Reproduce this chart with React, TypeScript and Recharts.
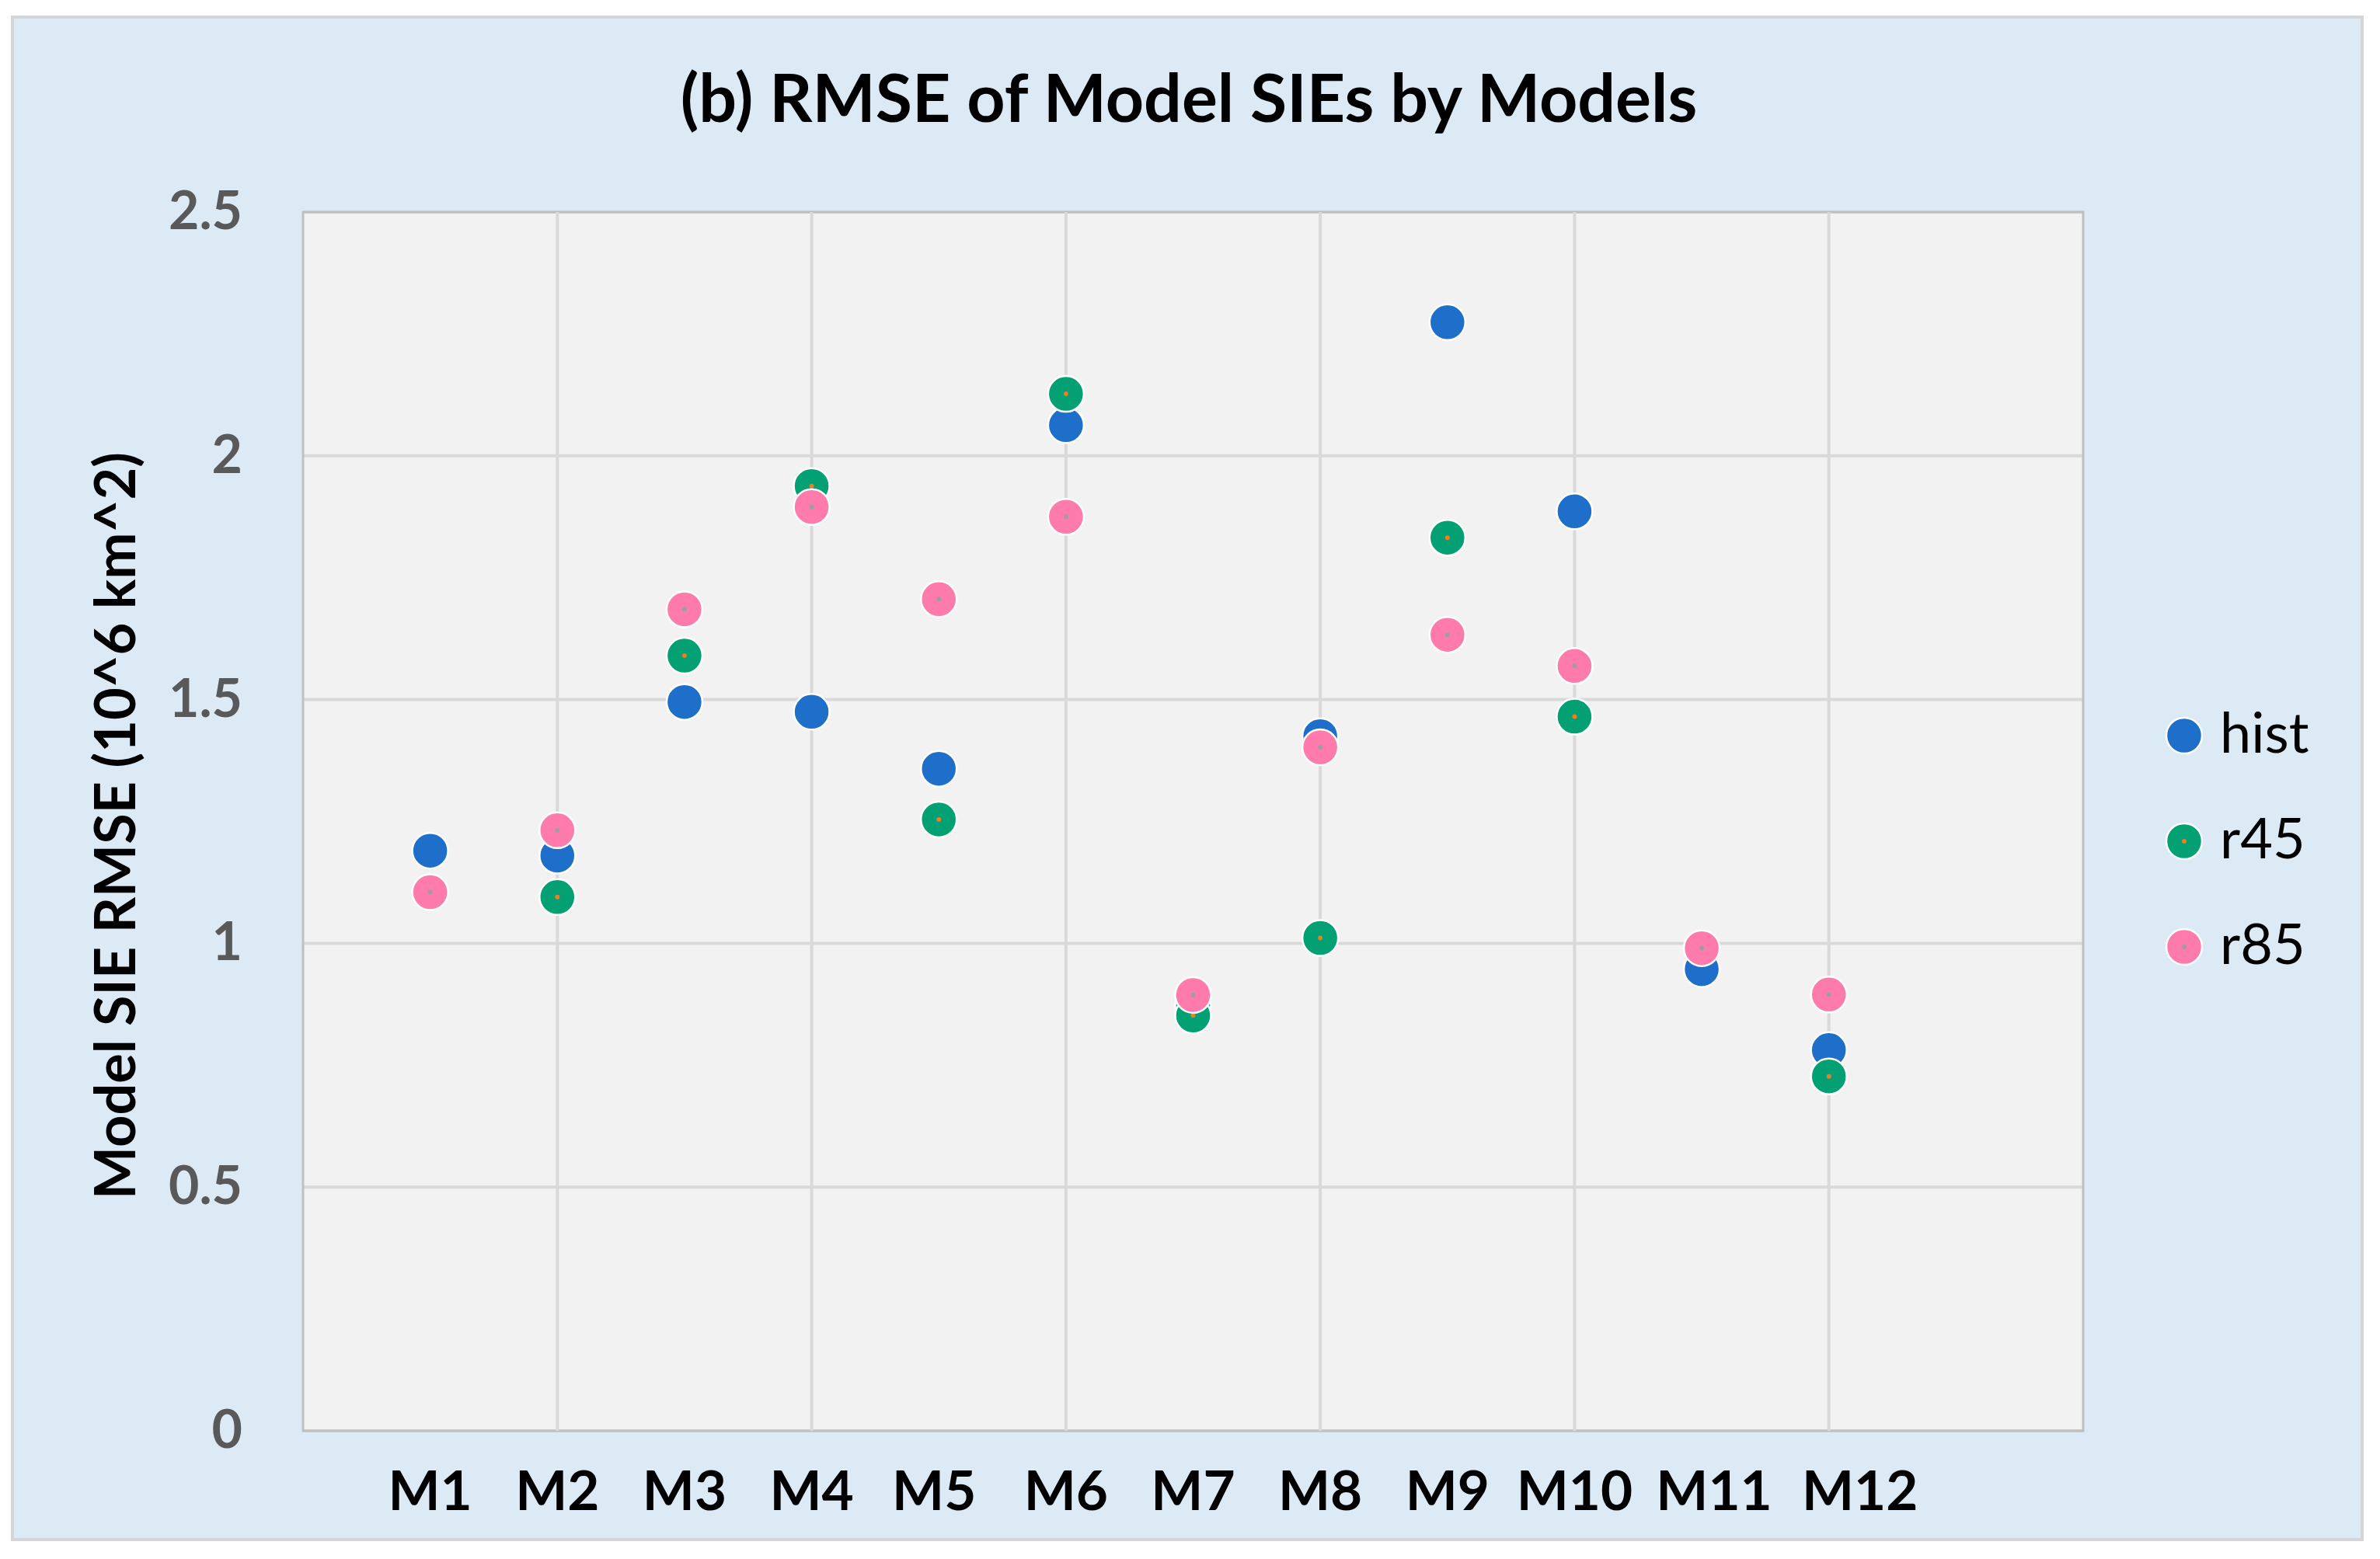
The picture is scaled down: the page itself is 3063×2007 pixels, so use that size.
import React from 'react';
import { ScatterChart, Scatter, XAxis, YAxis, CartesianGrid, Legend, ReferenceArea, ReferenceLine } from 'recharts';

const categories = ['M1', 'M2', 'M3', 'M4', 'M5', 'M6', 'M7', 'M8', 'M9', 'M10', 'M11', 'M12'];
const histValues: (number | null)[] = [1.19, 1.18, 1.495, 1.475, 1.358, 2.063, 0.872, 1.425, 2.274, 1.886, 0.947, 0.781];
const r45Values: (number | null)[] = [null, 1.095, 1.59, 1.938, 1.254, 2.127, 0.852, 1.011, 1.832, 1.465, null, 0.727];
const r85Values: (number | null)[] = [1.105, 1.232, 1.685, 1.895, 1.706, 1.875, 0.894, 1.402, 1.633, 1.569, 0.99, 0.895];
const seriesNames = ['hist', 'r45', 'r85'];
const yTicks = [0, 0.5, 1, 1.5, 2, 2.5];
const yTickLabels = ['0', '0.5', '1', '1.5', '2', '2.5'];
const xTicks = [1, 2, 3, 4, 5, 6, 7, 8, 9, 10, 11, 12];
const xGridValues = [2, 4, 6, 8, 10, 12];
const xDomain = [0, 14];
const yDomain = [0, 2.5];

// small horizontal nudges (px) of the category text labels, as placed in the original
const xLabelNudge = [0, 0, 0, 0, -6, 0, 0, 0, 0, 0, 16, 40];

const COLORS = {
  hist: '#1D6FC9',
  r45: '#02A072',
  r85: '#FF7BAC',
};
const CENTER_DOTS: Record<string, string | null> = {
  hist: null,
  r45: '#F07D1F',
  r85: '#9E9E9E',
};

const FONT = 'Lato, "Open Sans", sans-serif';

const toPoints = (vals: (number | null)[]) =>
  categories
    .map((c, i) => ({ name: c, x: i + 1, y: vals[i] }))
    .filter((d) => d.y !== null && d.y !== undefined);

const histData = toPoints(histValues);
const r45Data = toPoints(r45Values);
const r85Data = toPoints(r85Values);

const makeShape = (fill: string, dot: string | null) => (props: any) => {
  const { cx, cy } = props;
  if (cx == null || cy == null || isNaN(cx) || isNaN(cy)) return <g />;
  return (
    <g>
      <circle cx={cx} cy={cy} r={23} fill={fill} stroke="#FFFFFF" strokeWidth={2.5} />
      {dot ? <circle cx={cx} cy={cy} r={3} fill={dot} /> : null}
    </g>
  );
};

const XTick = (props: any) => {
  const { x, y, payload } = props;
  const i = Math.round(payload.value) - 1;
  const label = categories[i] ?? '';
  const dx = xLabelNudge[i] ?? 0;
  return (
    <text x={x + dx} y={y + 102} textAnchor="middle" fontFamily={FONT} fontWeight={700} fontSize={71} fill="#000000">
      {label}
    </text>
  );
};

const YTick = (props: any) => {
  const { x, y, payload } = props;
  const idx = yTicks.indexOf(payload.value);
  const label = idx >= 0 ? yTickLabels[idx] : String(payload.value);
  return (
    <text x={x} y={y + 22} textAnchor="end" fontFamily={FONT} fontWeight={700} fontSize={68} fill="#595959">
      {label}
    </text>
  );
};

const renderLegend = (props: any) => {
  const payload = (props && props.payload) || [];
  const items = seriesNames.map((n) => {
    const p = payload.find((e: any) => e.value === n);
    return { name: n, color: (p && p.color) || (COLORS as any)[n] };
  });
  return (
    <div style={{ display: 'flex', flexDirection: 'column' }}>
      {items.map((it) => (
        <div key={it.name} style={{ height: 136, display: 'flex', alignItems: 'center' }}>
          <svg width={52} height={52} style={{ flex: 'none' }}>
            <circle cx={26} cy={26} r={23} fill={it.color} stroke="#FFFFFF" strokeWidth={2.5} />
            {CENTER_DOTS[it.name] ? <circle cx={26} cy={26} r={3} fill={CENTER_DOTS[it.name] as string} /> : null}
          </svg>
          <span
            style={{
              marginLeft: 20,
              fontFamily: FONT,
              fontSize: 72,
              lineHeight: '72px',
              color: '#000000',
              position: 'relative',
              top: -6,
            }}
          >
            {it.name}
          </span>
        </div>
      ))}
    </div>
  );
};

export default function App() {
  return (
    <div style={{ position: 'absolute', left: 0, top: 0, width: 3063, height: 2007, background: '#FFFFFF', overflow: 'hidden' }}>
      <div
        style={{
          position: 'absolute',
          left: 14,
          top: 20,
          width: 3028,
          height: 1964,
          background: '#DCEAF6',
          border: '4px solid #D3D6D9',
          boxSizing: 'border-box',
        }}
      />
      <div style={{ position: 'absolute', left: 0, top: 0 }}>
        <ScatterChart
          width={3063}
          height={2007}
          margin={{ top: 273, right: 382, bottom: 45, left: 190 }}
        >
          <CartesianGrid fill="#F2F2F2" stroke="#D9D9D9" strokeWidth={4} vertical={false} />
          {xGridValues.map((v) => (
            <ReferenceLine key={v} x={v} stroke="#D9D9D9" strokeWidth={4} />
          ))}
          <ReferenceArea
            x1={xDomain[0]}
            x2={xDomain[1]}
            y1={yDomain[0]}
            y2={yDomain[1]}
            fill="none"
            fillOpacity={0}
            stroke="#BFBFBF"
            strokeWidth={3}
          />
          <XAxis
            type="number"
            dataKey="x"
            domain={xDomain}
            ticks={xTicks}
            interval={0}
            allowDataOverflow
            tickLine={false}
            axisLine={false}
            tickSize={0}
            tickMargin={0}
            height={120}
            tick={<XTick />}
          />
          <YAxis
            type="number"
            dataKey="y"
            domain={yDomain}
            ticks={yTicks}
            interval={0}
            allowDataOverflow
            tickLine={false}
            axisLine={false}
            tickSize={0}
            tickMargin={78}
            width={200}
            tick={<YTick />}
          />
          <Legend
            layout="vertical"
            align="center"
            verticalAlign="middle"
            content={renderLegend}
            wrapperStyle={{ position: 'absolute', left: 2785, top: 879, width: 260, height: 408 }}
          />
          <Scatter name="hist" data={histData} fill={COLORS.hist} shape={makeShape(COLORS.hist, CENTER_DOTS.hist)} isAnimationActive={false} />
          <Scatter name="r45" data={r45Data} fill={COLORS.r45} shape={makeShape(COLORS.r45, CENTER_DOTS.r45)} isAnimationActive={false} />
          <Scatter name="r85" data={r85Data} fill={COLORS.r85} shape={makeShape(COLORS.r85, CENTER_DOTS.r85)} isAnimationActive={false} />
          <text x={1530} y={157} textAnchor="middle" fontFamily={FONT} fontWeight={700} fontSize={86} fill="#000000">
            (b) RMSE of Model SIEs by Models
          </text>
          <text
            transform="translate(174, 1063) rotate(-90)"
            x={0}
            y={0}
            textAnchor="middle"
            fontFamily={FONT}
            fontWeight={700}
            fontSize={72}
            fill="#000000"
          >
            Model SIE RMSE (10^6 km^2)
          </text>
        </ScatterChart>
      </div>
    </div>
  );
}
